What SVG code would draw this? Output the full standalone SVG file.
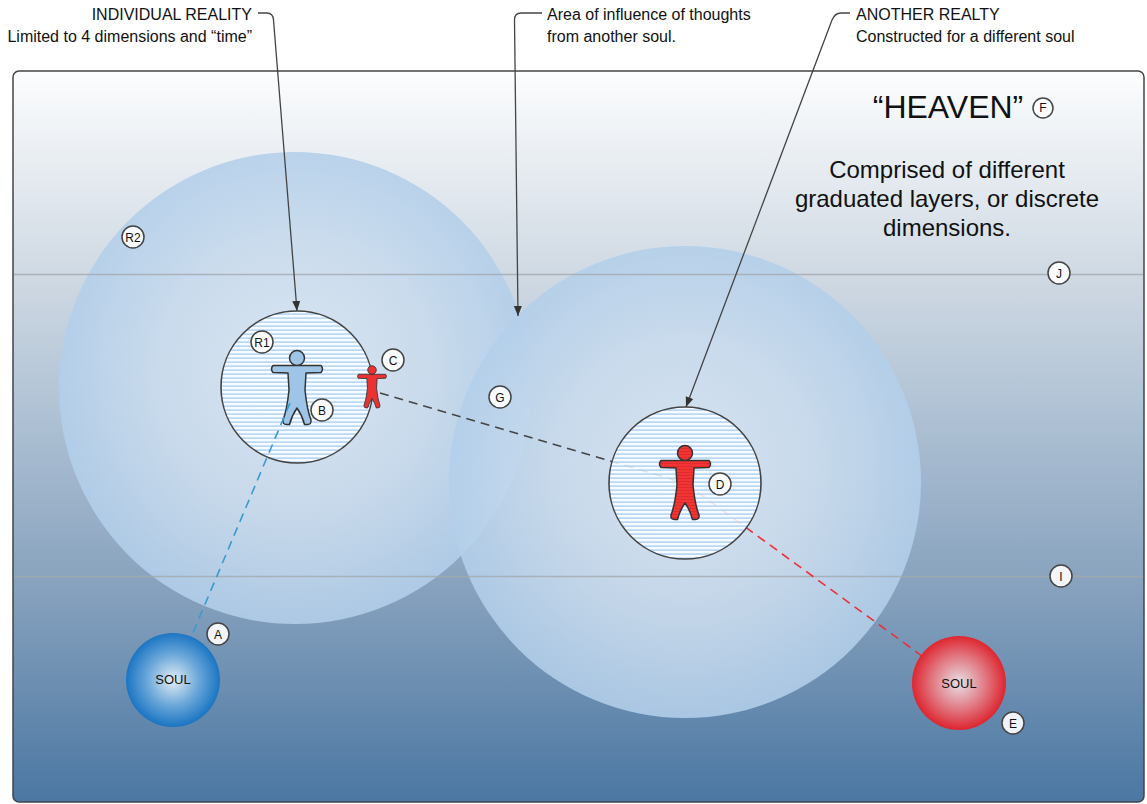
<svg xmlns="http://www.w3.org/2000/svg" width="1147" height="804" viewBox="0 0 1147 804">
<defs>
<style>
text{font-family:"Liberation Sans",Arial,sans-serif;fill:#111}
.call{font-size:16px}
.lbl{font-size:12px;text-anchor:middle}
.tag{fill:#fff;fill-opacity:0.9;stroke:#444;stroke-width:1.5}
.lead{fill:none;stroke:#444;stroke-width:1.3}
.real{fill:url(#stripes);stroke:#444;stroke-width:1.6}
.big{fill:url(#bigGrad);fill-opacity:0.88}
.fig{stroke:#333;stroke-width:1.5;stroke-linejoin:round}
</style>
<linearGradient id="bg" x1="0" y1="71" x2="0" y2="802" gradientUnits="userSpaceOnUse">
<stop offset="0" stop-color="#fcfdfe"/>
<stop offset="0.28" stop-color="#cfd9e3"/>
<stop offset="0.45" stop-color="#b2c4d6"/>
<stop offset="0.69" stop-color="#8aa4bf"/>
<stop offset="1" stop-color="#4b77a2"/>
</linearGradient>
<radialGradient id="bigGrad" cx="0.5" cy="0.5" r="0.5">
<stop offset="0" stop-color="#dfeaf5"/>
<stop offset="0.6" stop-color="#cadcee"/>
<stop offset="1" stop-color="#b3cfea"/>
</radialGradient>
<radialGradient id="blueSoul" cx="0.5" cy="0.5" r="0.5">
<stop offset="0" stop-color="#eef4fa"/>
<stop offset="0.55" stop-color="#6aa9dc"/>
<stop offset="1" stop-color="#1573c4"/>
</radialGradient>
<radialGradient id="redSoul" cx="0.5" cy="0.5" r="0.5">
<stop offset="0" stop-color="#f1e6ea"/>
<stop offset="0.55" stop-color="#ea7a82"/>
<stop offset="1" stop-color="#e61e26"/>
</radialGradient>
<pattern id="stripes" patternUnits="userSpaceOnUse" width="8" height="4">
<rect width="8" height="4" fill="#fff" fill-opacity="0.85"/>
<rect y="1.5" width="8" height="1.2" fill="#9ccaf4"/>
</pattern>
<pattern id="redStripes" patternUnits="userSpaceOnUse" width="8" height="3">
<rect width="8" height="3" fill="#f23434"/>
<rect y="1" width="8" height="0.8" fill="#dc2828"/>
</pattern>
<marker id="arrow" viewBox="0 0 10 10" refX="10" refY="5" markerWidth="10" markerHeight="10" markerUnits="userSpaceOnUse" orient="auto">
<path d="M0,1 L10,5 L0,9 Z" fill="#333"/>
</marker>
<path id="person" d="M -24,7.5 L 24,7.5 Q 27,11 24,14.5 L 9,15 L 8,32 Q 10,52 14,62 Q 14.5,66.5 10.5,66.5 L 7.5,66.5 Q 5,57 0,50 Q -5,57 -7.5,66.5 L -10.5,66.5 Q -14.5,66.5 -14,62 Q -10,52 -8,32 L -9,15 L -24,14.5 Q -27,11 -24,7.5 Z M 7.5,0 A 7.5,7.5 0 1 1 -7.5,0 A 7.5,7.5 0 1 1 7.5,0 Z"/>
</defs>

<g id="heaven">
<rect x="13" y="71" width="1131" height="731" rx="6" fill="url(#bg)" stroke="#444" stroke-width="1.5"/>
<text x="948" y="118" font-size="32" text-anchor="middle">“HEAVEN”</text>
<text font-size="24" text-anchor="middle"><tspan x="947" y="178">Comprised of different</tspan><tspan x="947" y="207">graduated layers, or discrete</tspan><tspan x="947" y="236">dimensions.</tspan></text>
</g>

<g id="influence-R2">
<circle cx="295" cy="388" r="236" class="big"/>
</g>
<g id="influence-G">
<circle cx="685" cy="482" r="236" class="big"/>
</g>

<g id="layers">
<line x1="14" y1="274.5" x2="1143" y2="274.5" stroke="#a4a8ac" stroke-opacity="0.8" stroke-width="1.5"/>
<line x1="14" y1="576.5" x2="1143" y2="576.5" stroke="#a4a8ac" stroke-opacity="0.8" stroke-width="1.5"/>
</g>

<g id="connectors">
<line x1="380" y1="393" x2="685" y2="483" stroke="#444" stroke-width="1.6" stroke-dasharray="9 6"/>
<line x1="685" y1="483" x2="959" y2="683" stroke="#e8323a" stroke-width="1.6" stroke-dasharray="9 6"/>
</g>

<g id="reality-R1">
<circle cx="297" cy="387" r="76" class="real"/>
<use href="#person" transform="translate(297,358)" class="fig" fill="#9ec4e8"/>
</g>
<g id="reality-D">
<circle cx="685" cy="483" r="76" class="real"/>
<use href="#person" transform="translate(685,453)" class="fig" fill="url(#redStripes)"/>
</g>
<g id="figure-C">
<use href="#person" transform="translate(372,370) scale(0.57)" class="fig" stroke-width="2.4" fill="url(#redStripes)"/>
</g>

<g id="connector-blue">
<line x1="290" y1="403" x2="173" y2="680" stroke="#3a9ad0" stroke-width="1.6" stroke-dasharray="9 6"/>
</g>

<g id="soul-A">
<circle cx="173" cy="680" r="47" fill="url(#blueSoul)" fill-opacity="0.93"/>
<text x="173" y="684" font-size="13" text-anchor="middle">SOUL</text>
</g>
<g id="soul-E">
<circle cx="959" cy="683" r="47" fill="url(#redSoul)" fill-opacity="0.93"/>
<text x="959" y="688" font-size="13" text-anchor="middle">SOUL</text>
</g>

<g id="callouts">
<path class="lead" d="M 258,13 L 267,13 Q 273,13 273.5,20 L 297,311" marker-end="url(#arrow)"/>
<path class="lead" d="M 542,13 L 521,13 Q 514.5,13 514.5,20 L 518,316" marker-end="url(#arrow)"/>
<path class="lead" d="M 850,13 L 841,13 Q 835,13 832,20 L 686,407" marker-end="url(#arrow)"/>
<text class="call" x="252" y="20" text-anchor="end">INDIVIDUAL REALITY</text>
<text class="call" x="252" y="42" text-anchor="end">Limited to 4 dimensions and “time”</text>
<text class="call" x="547" y="20">Area of influence of thoughts</text>
<text class="call" x="547" y="42">from another soul.</text>
<text class="call" x="856" y="20">ANOTHER REALTY</text>
<text class="call" x="856" y="42">Constructed for a different soul</text>
</g>

<g id="tags">
<g id="tag-R2"><circle cx="133" cy="237" r="11" class="tag"/><text x="133" y="241.5" class="lbl">R2</text></g>
<g id="tag-R1"><circle cx="262" cy="342" r="11" class="tag"/><text x="262" y="346.5" class="lbl">R1</text></g>
<g id="tag-C"><circle cx="393" cy="360" r="11" class="tag"/><text x="393" y="364.5" class="lbl">C</text></g>
<g id="tag-B"><circle cx="322" cy="410" r="11" class="tag"/><text x="322" y="414.5" class="lbl">B</text></g>
<g id="tag-G"><circle cx="500" cy="397" r="11" class="tag"/><text x="500" y="401.5" class="lbl">G</text></g>
<g id="tag-D"><circle cx="720" cy="484" r="11" class="tag"/><text x="720" y="488.5" class="lbl">D</text></g>
<g id="tag-A"><circle cx="218" cy="634" r="11" class="tag"/><text x="218" y="638.5" class="lbl">A</text></g>
<g id="tag-E"><circle cx="1013" cy="723" r="11" class="tag"/><text x="1013" y="727.5" class="lbl">E</text></g>
<g id="tag-J"><circle cx="1059" cy="273" r="11" class="tag"/><text x="1059" y="277.5" class="lbl">J</text></g>
<g id="tag-I"><circle cx="1061" cy="576" r="11" class="tag"/><text x="1061" y="580.5" class="lbl">I</text></g>
<g id="tag-F"><circle cx="1043" cy="108" r="10" class="tag"/><text x="1043" y="111.5" class="lbl" font-size="9">F</text></g>
</g>
</svg>
